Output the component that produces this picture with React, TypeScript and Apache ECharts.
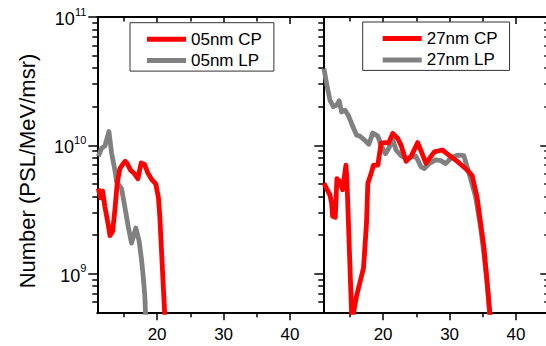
import React, { useEffect, useRef } from 'react';
import * as echarts from 'echarts';

const FONT = '"Liberation Sans", Arial, Helvetica, sans-serif';
const RED = '#ff0000';
const GRAY = '#808080';

// ---- data (x in arbitrary energy units, y in PSL/MeV/msr) ----
const cp05X = [11.15, 11.5, 11.8, 12.15, 12.65, 12.9, 13.3, 13.65, 14.0, 14.4, 14.9, 15.2, 15.5, 16.0, 16.6, 17.1, 17.6, 18.1, 18.6, 19.2, 19.8, 20.2, 20.4, 20.65, 20.9, 21.2];
const cp05Y = [4.6e9, 3.9e9, 4.4e9, 3.3e9, 2.4e9, 1.98e9, 2.13e9, 3.15e9, 5.1e9, 6.6e9, 7.2e9, 7.5e9, 7.2e9, 6.4e9, 6.0e9, 5.5e9, 7.3e9, 7.1e9, 6.1e9, 5.4e9, 5.0e9, 3.9e9, 2.8e9, 1.54e9, 8.5e8, 4.2e8];

const lp05X = [11.15, 11.65, 12.15, 12.75, 13.15, 13.65, 13.9, 14.65, 15.15, 15.65, 16.15, 16.8, 17.3, 17.65, 17.9, 18.15, 18.3];
const lp05Y = [8.2e9, 9.5e9, 9.9e9, 1.28e10, 8.7e9, 6.4e9, 5.2e9, 4.6e9, 3.3e9, 2.33e9, 1.73e9, 2.27e9, 1.79e9, 1.29e9, 9.6e8, 6.7e8, 4.2e8];

const cp27X = [11.1, 11.5, 12.0, 12.25, 12.4, 12.8, 13.05, 13.5, 13.9, 14.4, 14.55, 15.3, 16.0, 16.5, 17.05, 17.5, 17.7, 18.2, 18.55, 19.2, 19.7, 20.35, 20.8, 21.45, 22.2, 22.7, 23.45, 24.2, 25.2, 26.45, 27.7, 28.9, 29.9, 31.15, 32.4, 33.4, 34.15, 34.65, 35.15, 35.65, 36.05, 36.3];
const cp27Y = [5.07e9, 4.6e9, 4.1e9, 3.55e9, 2.8e9, 2.75e9, 5.5e9, 5.2e9, 4.5e9, 7.0e9, 5.5e9, 4.2e8, 6.7e8, 8.5e8, 1.11e9, 2.48e9, 5.07e9, 6.07e9, 7.0e9, 7.0e9, 1.04e10, 1.05e10, 1.04e10, 1.24e10, 1.13e10, 1.0e10, 7.5e9, 8.2e9, 1.05e10, 7.25e9, 8.9e9, 9.2e9, 8.4e9, 7.5e9, 6.6e9, 5.8e9, 3.9e9, 2.5e9, 1.63e9, 8.5e8, 5e8, 4e8];

const lp27X = [11.1, 11.5, 12.0, 12.5, 13.0, 13.4, 13.75, 14.25, 14.75, 15.25, 16.0, 16.5, 17.2, 17.85, 18.45, 19.2, 19.7, 20.35, 20.85, 21.45, 21.95, 22.7, 23.45, 24.2, 24.95, 25.7, 26.2, 26.9, 27.9, 28.7, 29.4, 30.15, 31.15, 32.15, 32.9, 33.9, 34.65, 35.15, 35.65, 36.0, 36.2];
const lp27Y = [3.96e10, 3.03e10, 2.25e10, 2.0e10, 2.06e10, 2.22e10, 1.82e10, 1.88e10, 1.72e10, 1.48e10, 1.2e10, 1.18e10, 1.1e10, 1.02e10, 1.25e10, 1.18e10, 1.0e10, 8.6e9, 9.5e9, 1.1e10, 9.2e9, 8.3e9, 7.9e9, 8.1e9, 8.2e9, 6.8e9, 6.6e9, 7.2e9, 7.7e9, 7.6e9, 7.2e9, 7.9e9, 8.4e9, 8.3e9, 6.1e9, 4.0e9, 2.33e9, 1.45e9, 8.5e8, 5e8, 4e8];

const seriesNames = ['05nm CP', '05nm LP', '27nm CP', '27nm LP'];

// ---- axes ----
const xMin = 11;
const xMax = 45;
const yMin = 5e8;
const yMax = 1e11;
const xMajorTicks = [20, 30, 40];
const xMinorTicks = [15, 25, 35];
const yMajorTicks = [1e9, 1e10, 1e11];
const yMinorMantissas = [2, 3, 4, 5, 6, 7, 8, 9];
const yDecades = [1e8, 1e9, 1e10];

const lg = (v: number) => Math.log10(v);
const yMinorTicks: number[] = [];
yDecades.forEach((d) => yMinorMantissas.forEach((m) => {
  const v = d * m;
  if (v > yMin && v < yMax) yMinorTicks.push(v);
}));

const pairs = (xs: number[], ys: number[]) => xs.map((x, i) => [x, ys[i]]);

const BLACK = '#000';
const lineSt = { color: BLACK, width: 2 };
const tickSt = { color: BLACK, width: 1.5 };

function xAxesFor(g: number) {
  const base = {
    type: 'value', gridIndex: g, min: xMin, max: xMax,
    splitLine: { show: false },
  };
  return [
    {
      ...base, position: 'bottom',
      axisLine: { show: true, onZero: false, lineStyle: lineSt },
      axisTick: { show: true, inside: false, length: 8, customValues: xMajorTicks, lineStyle: tickSt },
      axisLabel: { show: true, customValues: xMajorTicks, margin: 14, fontSize: 17, fontFamily: FONT, color: BLACK },
    },
    {
      ...base, position: 'bottom',
      axisLine: { show: false, onZero: false },
      axisTick: { show: true, inside: false, length: 5, customValues: xMinorTicks, lineStyle: tickSt },
      axisLabel: { show: false },
    },
    {
      ...base, position: 'top',
      axisLine: { show: true, onZero: false, lineStyle: lineSt },
      axisTick: { show: true, inside: true, length: 7, customValues: xMajorTicks, lineStyle: tickSt },
      axisLabel: { show: false },
    },
    {
      ...base, position: 'top',
      axisLine: { show: false, onZero: false },
      axisTick: { show: true, inside: true, length: 4.5, customValues: xMinorTicks, lineStyle: tickSt },
      axisLabel: { show: false },
    },
  ];
}

function yAxesFor(g: number) {
  const vbase = {
    type: 'value', gridIndex: g, min: lg(yMin), max: lg(yMax),
    splitLine: { show: false },
  };
  const majors = yMajorTicks.map(lg);
  const minors = yMinorTicks.map(lg);
  return [
    {
      type: 'log', logBase: 10, gridIndex: g, min: yMin, max: yMax, position: 'left',
      axisLine: { show: true, onZero: false, lineStyle: lineSt },
      axisTick: { show: false },
      axisLabel: { show: false },
      splitLine: { show: false },
    },
    {
      ...vbase, position: 'left',
      axisLine: { show: false, onZero: false },
      axisTick: { show: true, inside: false, length: 9, customValues: majors, lineStyle: tickSt },
      axisLabel: g === 0 ? {
        show: true, customValues: majors, margin: 11,
        formatter: (v: number) => '{b|10}{s|' + Math.round(v) + '}',
        rich: {
          b: { fontSize: 18, lineHeight: 22, verticalAlign: 'bottom', fontFamily: FONT, color: BLACK },
          s: { fontSize: 11, verticalAlign: 'top', fontFamily: FONT, color: BLACK },
        },
      } : { show: false },
    },
    {
      ...vbase, position: 'left',
      axisLine: { show: false, onZero: false },
      axisTick: { show: true, inside: false, length: 5, customValues: minors, lineStyle: tickSt },
      axisLabel: { show: false },
    },
    {
      ...vbase, position: 'right',
      axisLine: { show: true, onZero: false, lineStyle: lineSt },
      axisTick: { show: g === 1, inside: true, length: 9, customValues: majors, lineStyle: tickSt },
      axisLabel: { show: false },
    },
    {
      ...vbase, position: 'right',
      axisLine: { show: false, onZero: false },
      axisTick: { show: g === 1, inside: true, length: 5, customValues: minors, lineStyle: tickSt },
      axisLabel: { show: false },
    },
  ];
}

function lineSeries(name: string, g: number, data: number[][], color: string, z: number) {
  return {
    type: 'line', name, xAxisIndex: g * 4, yAxisIndex: g * 5, data,
    showSymbol: false, symbol: 'none', clip: true, z,
    color, itemStyle: { color },
    lineStyle: { width: 4.8, color, join: 'round', cap: 'butt' },
  };
}

function legendFor(names: string[], left: number, top: number, padLeft: number) {
  return {
    data: names, orient: 'vertical', left, top,
    icon: 'rect', itemWidth: 39, itemHeight: 5, itemGap: 4.4,
    padding: [8, 12, 2, padLeft],
    borderColor: '#333', borderWidth: 1, backgroundColor: '#fff',
    selectedMode: false,
    textStyle: { fontSize: 17, fontFamily: FONT, color: BLACK },
  };
}

export default function App() {
  const ref = useRef<HTMLDivElement>(null);
  useEffect(() => {
    if (!ref.current) return;
    const chart = echarts.init(ref.current, null, { renderer: 'svg' });
    chart.setOption({
      animation: false,
      backgroundColor: '#fff',
      textStyle: { fontFamily: FONT },
      grid: [
        { left: 97.3, top: 17, width: 226, height: 295.3, containLabel: false, outerBoundsMode: 'none' },
        { left: 323.3, top: 17, width: 226, height: 295.3, containLabel: false, outerBoundsMode: 'none' },
      ],
      xAxis: [...xAxesFor(0), ...xAxesFor(1)],
      yAxis: [...yAxesFor(0), ...yAxesFor(1)],
      legend: [
        legendFor([seriesNames[0], seriesNames[1]], 130, 22.7, 17),
        legendFor([seriesNames[2], seriesNames[3]], 362.7, 22, 20),
      ],
      series: [
        lineSeries(seriesNames[1], 0, pairs(lp05X, lp05Y), GRAY, 2),
        lineSeries(seriesNames[0], 0, pairs(cp05X, cp05Y), RED, 3),
        lineSeries(seriesNames[3], 1, pairs(lp27X, lp27Y), GRAY, 2),
        lineSeries(seriesNames[2], 1, pairs(cp27X, cp27Y), RED, 3),
      ],
      graphic: [
        {
          type: 'text', x: 27.5, y: 171, rotation: Math.PI / 2,
          style: {
            text: 'Number (PSL/MeV/msr)', fontSize: 22, fontFamily: FONT, fill: BLACK,
            textAlign: 'center', textVerticalAlign: 'middle',
          },
        },
      ],
    });
    return () => chart.dispose();
  }, []);
  return <div ref={ref} style={{ position: 'fixed', left: 0, top: 0, width: 546, height: 346 }} />;
}
